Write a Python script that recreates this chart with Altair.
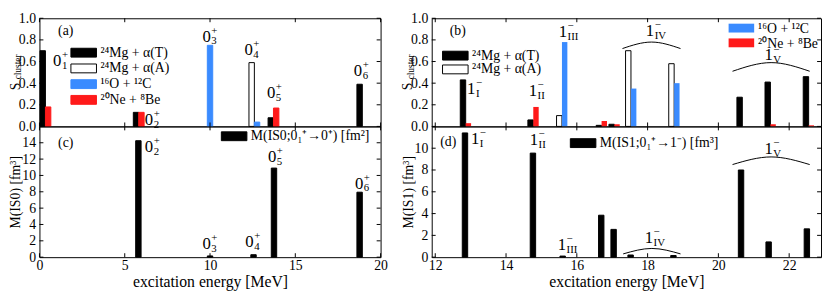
import altair as alt
import pandas as pd

FONT = "Liberation Serif"

# ---------------- data ----------------
series_names = ["²⁴Mg + α(T)", "²⁴Mg + α(A)", "¹⁶O + ¹²C", "²⁰Ne + ⁸Be"]
fill_colors = ["#000000", "#ffffff", "#3a8bff", "#ff1a1a"]
edge_colors = ["#000000", "#000000", "#3a8bff", "#ff1a1a"]

# 0+ states (panel a): excitation energy and cluster spectroscopic factors
E0 = [0.35, 5.82, 10.0, 12.6, 13.72, 18.77]
S0_T = [0.70, 0.13, 0.0, 0.0, 0.08, 0.39]
S0_A = [0.0, 0.0, 0.0, 0.59, 0.0, 0.0]
S0_OC = [0.0, 0.0, 0.75, 0.04, 0.0, 0.0]
S0_NB = [0.18, 0.13, 0.0, 0.0, 0.17, 0.0]

# panel c: isoscalar monopole strength
E0_M = [5.8, 10.0, 12.55, 13.75, 18.77]
M_IS0 = [14.25, 0.15, 0.3, 10.9, 7.95]

# 1- states (panel b)
E1 = [12.86, 14.77, 15.58, 16.7, 17.06, 17.53, 18.75, 20.6, 21.47, 22.55]
S1_T = [0.43, 0.06, 0.0, 0.01, 0.02, 0.0, 0.0, 0.27, 0.41, 0.46]
S1_A = [0.0, 0.0, 0.10, 0.0, 0.0, 0.70, 0.58, 0.0, 0.0, 0.0]
S1_OC = [0.0, 0.0, 0.78, 0.0, 0.0, 0.35, 0.40, 0.0, 0.0, 0.0]
S1_NB = [0.03, 0.18, 0.0, 0.05, 0.02, 0.0, 0.0, 0.0, 0.02, 0.01]

# panel d: isoscalar dipole strength
E1_M = [12.84, 14.76, 15.6, 16.69, 17.04, 17.52, 18.73, 20.64, 21.42, 22.5]
M_IS1 = [11.4, 9.55, 0.1, 3.85, 2.55, 0.2, 0.15, 8.0, 1.4, 2.6]

# state labels (subscripts, anchor energy, anchor value)
lab0_sub = ["1", "2", "3", "4", "5", "6"]
lab_a_x = [0.8, 6.18, 9.56, 12.02, 13.34, 18.43]
lab_a_y = [0.56, 0.01, 0.785, 0.663, 0.263, 0.463]
lab_c_sub = ["2", "3", "4", "5", "6"]
lab_c_x = [6.18, 9.56, 12.07, 13.4, 18.5]
lab_c_y = [12.9, 1.0, 1.23, 11.7, 8.4]
lab1_sub = ["I", "II", "III", "IV", "V"]
lab_b_x = [12.9, 14.64, 15.49, 17.95, 21.3]
lab_b_y = [0.30, 0.28, 0.83, 0.84, 0.61]
lab_d_x = [13.01, 14.67, 15.46, 17.92, 21.3]
lab_d_y = [10.4, 10.3, 0.63, 1.33, 9.5]

# brackets grouping states: (E start, E end, value at ends, value at apex)
arcs_b = [(17.29, 18.93, 0.72, 0.78), (20.4, 22.58, 0.51, 0.59)]
arcs_d = [(17.31, 18.93, 0.3, 0.8), (20.4, 22.58, 8.5, 9.2)]

# axis ticks
xt0 = [0, 5, 10, 15, 20]
xt1 = [12, 14, 16, 18, 20, 22]
yt_S = [0.0, 0.2, 0.4, 0.6, 0.8, 1.0]
yt_IS0 = [0, 2, 4, 6, 8, 10, 12, 14]
yt_IS1 = [0, 2, 4, 6, 8, 10]

# ---------------- layout ----------------
WL, WR = 347, 396
HT, HB = 110, 133
XD0 = [0, 20]
XD1 = [11.9, 22.9]
BARPX = 5.5
TICK = 4
# wide swatch drawn around a 10px nominal legend symbol
RECT = "M-2.6,-0.9L2.6,-0.9L2.6,0.9L-2.6,0.9Z"


def sc(dom):
    return alt.Scale(domain=dom, nice=False, zero=False)


def bar_frame(E, cols, W, dom):
    w = BARPX / (W / (dom[1] - dom[0]))
    rows = []
    for i, e in enumerate(E):
        left = [k for k in (0, 1) if cols[k][i] > 0]
        right = [k for k in (2, 3) if cols[k][i] > 0]
        both = bool(left) and bool(right)
        for k in left:
            x0, x1 = (e - w, e) if both else (e - w / 2, e + w / 2)
            rows.append(dict(series=series_names[k], x0=x0, x1=x1, v=cols[k][i], z=0.0))
        for k in right:
            x0, x1 = (e, e + w) if both else (e - w / 2, e + w / 2)
            rows.append(dict(series=series_names[k], x0=x0, x1=x1, v=cols[k][i], z=0.0))
    return pd.DataFrame(rows)


def legend(x, y, rowpad, size=14, stroke=None, sw=1):
    kw = dict(title=None, direction="vertical", columns=1,
              orient="none", legendX=x + 5, legendY=y,
              symbolType=RECT, symbolSize=100, symbolStrokeWidth=sw,
              labelFont=FONT, labelFontSize=size, labelColor="black",
              rowPadding=rowpad, padding=0, labelOffset=10, labelLimit=300)
    if stroke is not None:
        kw["symbolStrokeColor"] = stroke
    return alt.Legend(**kw)


class Panel:
    def __init__(self, xdom, ydom, xax, yax):
        self.xs, self.ys = sc(xdom), sc(ydom)
        self.xax, self.yax = xax, yax

    def X(self, f):
        return alt.X(f, scale=self.xs, axis=self.xax)

    def Y(self, f):
        return alt.Y(f, scale=self.ys, axis=self.yax)


def bars_layer(P, df, keys, leg, stroke_legend=True):
    idx = [series_names.index(k) for k in keys]
    dom = [series_names[i] for i in idx]
    return alt.Chart(df[df.series.isin(dom)]).mark_bar(strokeWidth=1).encode(
        x=P.X("x0:Q"), x2="x1:Q", y=P.Y("v:Q"), y2="z:Q",
        fill=alt.Fill("series:N", scale=alt.Scale(domain=dom, range=[fill_colors[i] for i in idx]),
                      legend=leg, sort=dom),
        stroke=alt.Stroke("series:N", scale=alt.Scale(domain=dom, range=[edge_colors[i] for i in idx]),
                          legend=leg if stroke_legend else None, sort=dom),
    )


def color_bars_layer(P, df, keys):
    idx = [series_names.index(k) for k in keys]
    dom = [series_names[i] for i in idx]
    return alt.Chart(df[df.series.isin(dom)]).mark_bar(strokeWidth=0).encode(
        x=P.X("x0:Q"), x2="x1:Q", y=P.Y("v:Q"), y2="z:Q",
        color=alt.Color("series:N", scale=alt.Scale(domain=dom, range=[fill_colors[i] for i in idx]),
                        legend=None, sort=dom),
    )


def key_rows(keys, left, top, step):
    # drawn key for the second group of series in panel (b)
    layers = []
    for r, k in enumerate(keys):
        i = series_names.index(k)
        cy = top + r * step
        d = pd.DataFrame({"t": [k]})
        layers.append(alt.Chart(d).mark_rect(color=fill_colors[i]).encode(
            x=alt.value(left), x2=alt.value(left + 26),
            y=alt.value(cy - 4.5), y2=alt.value(cy + 4.5)))
        layers.append(alt.Chart(d).mark_text(
            font=FONT, fontSize=14, align="left", baseline="middle", color="black").encode(
            x=alt.value(left + 30), y=alt.value(cy + 1), text="t:N"))
    return layers


def tick_layers(P, xvals, yvals, W, H):
    bx = alt.Chart(pd.DataFrame({"x0": xvals})).mark_rule(color="black", strokeWidth=1)
    by = alt.Chart(pd.DataFrame({"v": yvals})).mark_rule(color="black", strokeWidth=1)
    return [
        bx.encode(x=P.X("x0:Q"), y=alt.value(H - TICK), y2=alt.value(H)),
        bx.encode(x=P.X("x0:Q"), y=alt.value(0), y2=alt.value(TICK)),
        by.encode(y=P.Y("v:Q"), x=alt.value(0), x2=alt.value(TICK)),
        by.encode(y=P.Y("v:Q"), x=alt.value(W - TICK), x2=alt.value(W)),
    ]


def label_layers(P, main, sup, subs, xv, yv):
    n = len(subs)
    df = pd.DataFrame({"x0": xv, "v": yv, "m": [main] * n, "p": [sup] * n, "b": subs})
    base = alt.Chart(df).encode(x=P.X("x0:Q"), y=P.Y("v:Q"))
    kw = dict(font=FONT, align="left", baseline="alphabetic", color="black")
    return [
        base.mark_text(fontSize=17, **kw).encode(text="m:N"),
        base.mark_text(fontSize=11, dx=9, dy=-8, **kw).encode(text="p:N"),
        base.mark_text(fontSize=11, dx=9, dy=3, **kw).encode(text="b:N"),
    ]


def arc_layer(P, arcs):
    rows = []
    for g, (a, b, ye, yt) in enumerate(arcs):
        rows += [dict(g=g, x0=a, v=ye), dict(g=g, x0=(a + b) / 2, v=yt), dict(g=g, x0=b, v=ye)]
    return alt.Chart(pd.DataFrame(rows)).mark_line(
        interpolate="natural", color="black", strokeWidth=1).encode(
        x=P.X("x0:Q"), y=P.Y("v:Q"), detail="g:N")


def letter_layer(P, t, x, y):
    return alt.Chart(pd.DataFrame({"t": [t], "x0": [x], "v": [y]})).mark_text(
        font=FONT, fontSize=14, align="left", baseline="middle", color="black").encode(
        x=P.X("x0:Q"), y=P.Y("v:Q"), text="t:N")


def s_title_layers(P):
    d1 = pd.DataFrame({"t": ["S"], "v": [0.37]})
    d2 = pd.DataFrame({"t": ["cluster"], "v": [0.55]})
    kw = dict(font=FONT, angle=270, align="center", baseline="middle", color="black")
    return [
        alt.Chart(d1).mark_text(fontSize=14, **kw).encode(
            x=alt.value(-24), y=P.Y("v:Q"), text="t:N"),
        alt.Chart(d2).mark_text(fontSize=9.5, **kw).encode(
            x=alt.value(-21.5), y=P.Y("v:Q"), text="t:N"),
    ]


def yaxis(vals, fmt, title=None):
    kw = dict(values=vals, format=fmt, ticks=False, domain=False, grid=False,
              labelFont=FONT, labelFontSize=14, labelColor="black", labelPadding=4)
    if title is not None:
        kw.update(title=title, titleFont=FONT, titleFontSize=14, titleFontWeight="normal",
                  titleColor="black", titleX=-17, titleBaseline="bottom")
    else:
        kw.update(title=None)
    return alt.Axis(**kw)


def xaxis(vals):
    return alt.Axis(values=vals, ticks=False, domain=False, grid=False, labelFlush=False,
                    labelFont=FONT, labelFontSize=14, labelColor="black", labelPadding=2,
                    title="excitation energy [MeV]", titleFont=FONT, titleFontSize=16,
                    titleFontWeight="normal", titleColor="black", titlePadding=1)


# ---------------- panel (a) ----------------
PA = Panel(XD0, [0, 1], None, yaxis(yt_S, ".1f"))
dfa = bar_frame(E0, [S0_T, S0_A, S0_OC, S0_NB], WL, XD0)
pa = alt.layer(
    bars_layer(PA, dfa, series_names, legend(33, 28, 2)),
    *tick_layers(PA, xt0, yt_S, WL, HT),
    *label_layers(PA, "0", "+", lab0_sub, lab_a_x, lab_a_y),
    letter_layer(PA, "(a)", 1.09, 0.88),
    *s_title_layers(PA),
).properties(width=WL, height=HT)

# ---------------- panel (b) ----------------
PB = Panel(XD1, [0, 1], None, yaxis(yt_S, ".1f"))
dfb = bar_frame(E1, [S1_T, S1_A, S1_OC, S1_NB], WR, XD1)
pb = alt.layer(
    bars_layer(PB, dfb, series_names[:2], legend(12, 31, 0, stroke="black"), stroke_legend=False),
    color_bars_layer(PB, dfb, series_names[2:]),
    *key_rows(series_names[2:], 302, 10, 15),
    *tick_layers(PB, xt1, yt_S, WR, HT),
    *label_layers(PB, "1", "−", lab1_sub, lab_b_x, lab_b_y),
    arc_layer(PB, arcs_b),
    letter_layer(PB, "(b)", 12.41, 0.88),
    *s_title_layers(PB),
).properties(width=WR, height=HT)

# ---------------- panel (c) ----------------
PC = Panel(XD0, [0, 16], xaxis(xt0), yaxis(yt_IS0, "d", "M(IS0) [fm³]"))
dfc = pd.DataFrame({"E": E0_M, "v": M_IS0, "lab": ["M(IS0;0₁⁺→0⁺) [fm²]"] * len(E0_M)})
wc = BARPX / (WL / (XD0[1] - XD0[0]))
dfc["x0"] = dfc.E - wc / 2
dfc["x1"] = dfc.E + wc / 2
dfc["z"] = 0.0
bars_c = alt.Chart(dfc).mark_bar(strokeWidth=1, stroke="black").encode(
    x=PC.X("x0:Q"), x2="x1:Q", y=PC.Y("v:Q"), y2="z:Q",
    fill=alt.Fill("lab:N", scale=alt.Scale(range=["#000000"]), legend=legend(186, 3, 0, 14)),
)
pc = alt.layer(
    bars_c,
    *tick_layers(PC, xt0, yt_IS0, WL, HB),
    *label_layers(PC, "0", "+", lab_c_sub, lab_c_x, lab_c_y),
    letter_layer(PC, "(c)", 1.09, 14.0),
).properties(width=WL, height=HB)

# ---------------- panel (d) ----------------
PD = Panel(XD1, [0, 12], xaxis(xt1), yaxis(yt_IS1, "d", "M(IS1) [fm³]"))
dfd = pd.DataFrame({"E": E1_M, "v": M_IS1, "lab": ["M(IS1;0₁⁺→1⁻) [fm³]"] * len(E1_M)})
wd = BARPX / (WR / (XD1[1] - XD1[0]))
dfd["x0"] = dfd.E - wd / 2
dfd["x1"] = dfd.E + wd / 2
dfd["z"] = 0.0
bars_d = alt.Chart(dfd).mark_bar(strokeWidth=1, stroke="black").encode(
    x=PD.X("x0:Q"), x2="x1:Q", y=PD.Y("v:Q"), y2="z:Q",
    fill=alt.Fill("lab:N", scale=alt.Scale(range=["#000000"]), legend=legend(142, 10, 0, 14)),
)
pd_ = alt.layer(
    bars_d,
    *tick_layers(PD, xt1, yt_IS1, WR, HB),
    *label_layers(PD, "1", "−", lab1_sub, lab_d_x, lab_d_y),
    arc_layer(PD, arcs_d),
    letter_layer(PD, "(d)", 12.14, 10.55),
).properties(width=WR, height=HB)

ind = dict(fill="independent", stroke="independent", color="independent")
left = alt.vconcat(pa, pc, spacing=0, bounds="flush").resolve_scale(**ind)
right = alt.vconcat(pb, pd_, spacing=0, bounds="flush").resolve_scale(**ind)

chart = alt.hconcat(left, right, spacing=12).resolve_scale(**ind).properties(
    padding={"left": 0, "top": 0, "right": 0, "bottom": 0}
).configure(background="white", font=FONT).configure_view(stroke="black", strokeWidth=1)

chart.save("out.html", embed_options={"renderer": "svg", "actions": False})
